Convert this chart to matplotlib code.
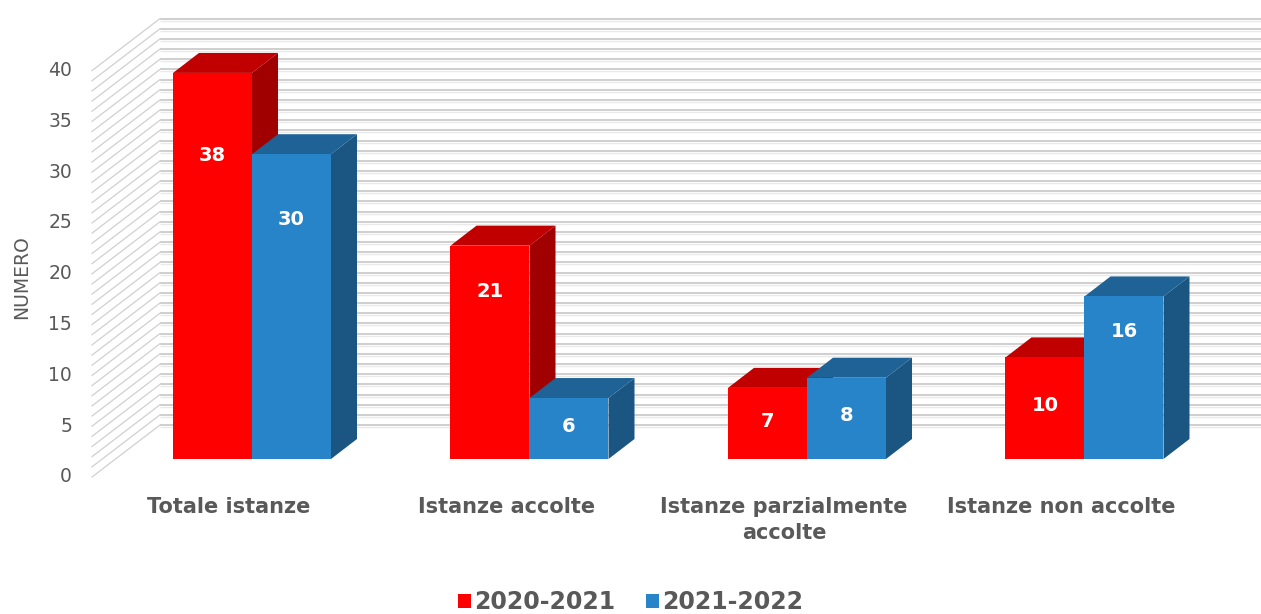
import matplotlib
matplotlib.use("Agg")
import matplotlib.pyplot as plt
from matplotlib.patches import Polygon, Rectangle

categories = ["Totale istanze", "Istanze accolte", "Istanze parzialmente\naccolte", "Istanze non accolte"]
series_names = ["2020-2021", "2021-2022"]
values_2020 = [38, 21, 7, 10]
values_2021 = [30, 6, 8, 16]
y_ticks = [0, 5, 10, 15, 20, 25, 30, 35, 40]

front_colors = ["#FF0000", "#2884C8"]
top_colors = ["#C00000", "#1F6296"]
side_colors = ["#A00000", "#1B5682"]
text_gray = "#595959"

W, H, DPI = 1261, 614, 100
fig = plt.figure(figsize=(W / DPI, H / DPI), dpi=DPI)
ax = fig.add_axes([0, 0, 1, 1])
ax.axis("off")

# pixel geometry -> data units
SX = 277.5   # px per category
SY = 10.16   # px per value unit
x0_px, y0_px = 252, 459   # first category centre / value 0 (px, from top)
ax.set_xlim(-x0_px / SX, (W - x0_px) / SX)
ax.set_ylim((y0_px - H) / SY, y0_px / SY)

def px_dx(p):
    return p / SX

def px_dy(p):
    return p / SY

bar_w = px_dx(79)
bar_ddx, bar_ddy = px_dx(26), px_dy(20)
front_dx, front_dy = px_dx(-23), px_dy(-18)
back_dx, back_dy = px_dx(45), px_dy(34)
wall_left_front = px_dx(92 - x0_px)
wall_depth_dx = back_dx - front_dx
xmax = ax.get_xlim()[1]

# walls & grid (one line per unit)
ymax_val = max(y_ticks)
for v in range(0, ymax_val + 1):
    yb = v + back_dy
    yf = v + front_dy
    ax.plot([wall_left_front + wall_depth_dx, xmax], [yb, yb], color="#c2c2c2", lw=1.1, zorder=1, solid_capstyle="butt")
    ax.plot([wall_left_front + wall_depth_dx, xmax], [yb - px_dy(2), yb - px_dy(2)], color="#eaeaea", lw=1.0, zorder=0.9, solid_capstyle="butt")
    ax.plot([wall_left_front, wall_left_front + wall_depth_dx], [yf, yb], color="#d0d0d0", lw=0.9, zorder=1)

# y tick labels on the front plane
for t in y_ticks:
    ax.text(wall_left_front - px_dx(20), t + front_dy, str(t), ha="right", va="center",
            fontsize=13.5, color=text_gray)

ax.text(px_dx(22 - x0_px), px_dy(y0_px - 277), "NUMERO", rotation=90, ha="center", va="center",
        fontsize=13.5, color=text_gray)

all_series = [values_2020, values_2021]
for i, cat in enumerate(categories):
    for j, vals in enumerate(all_series):
        h = vals[i]
        xl = i - bar_w + j * bar_w
        z = 2 + i * 10 + j * 3
        side = Polygon([(xl + bar_w, 0), (xl + bar_w + bar_ddx, bar_ddy),
                        (xl + bar_w + bar_ddx, h + bar_ddy), (xl + bar_w, h)],
                       closed=True, facecolor=side_colors[j], edgecolor="none", zorder=z)
        top = Polygon([(xl, h), (xl + bar_w, h), (xl + bar_w + bar_ddx, h + bar_ddy),
                       (xl + bar_ddx, h + bar_ddy)],
                      closed=True, facecolor=top_colors[j], edgecolor="none", zorder=z + 1)
        ax.add_patch(side)
        ax.add_patch(top)
        ax.bar(xl, h, width=bar_w, align="edge", color=front_colors[j], edgecolor="none", zorder=z + 2)
        ly = h * 0.785 if h > 12 else h * 0.53
        ax.text(xl + bar_w / 2, ly, str(h), ha="center", va="center", color="white",
                fontsize=14, fontweight="bold", zorder=z + 2.5)
    ax.text(i + front_dx, px_dy(y0_px - 497), cat, ha="center", va="top", fontsize=15,
            fontweight="bold", color=text_gray, linespacing=1.4)

handles = [Rectangle((0, 0), 1, 1, facecolor=c, edgecolor="none") for c in front_colors]
leg = fig.legend(handles, series_names, loc="center", bbox_to_anchor=(0.5, 1 - 602 / H), ncol=2,
                 frameon=False, prop={"size": 17, "weight": "bold"}, handlelength=0.55, handleheight=0.55,
                 handletextpad=0.15, columnspacing=1.3)
for t in leg.get_texts():
    t.set_color(text_gray)

fig.savefig("out.png", dpi=DPI)
